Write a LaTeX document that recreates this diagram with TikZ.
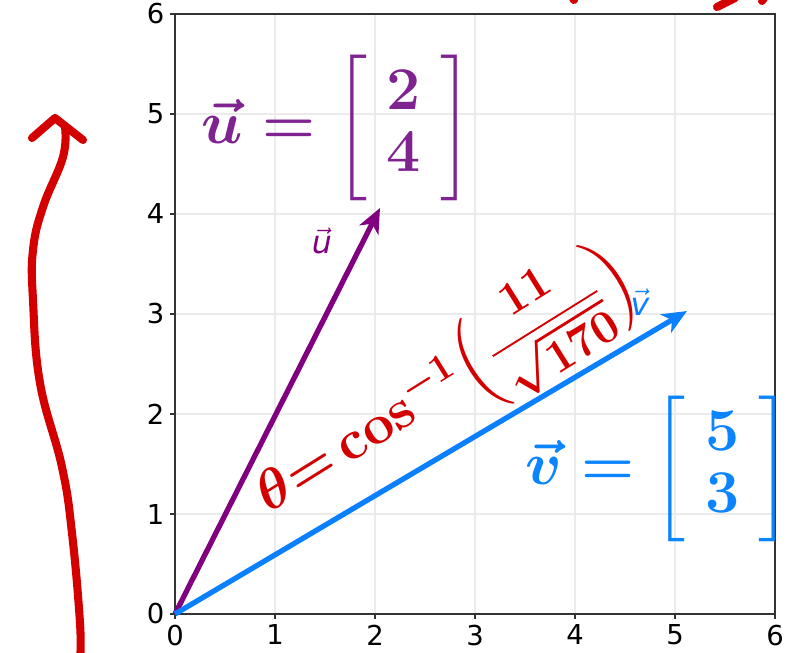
\documentclass[tikz,border=0pt]{standalone}
\usepackage{amsmath}
\usepackage[no-math]{fontspec}
\setmainfont{DejaVu Sans}
\usetikzlibrary{arrows.meta, positioning, calc}

\definecolor{mplpurple}{HTML}{800080}
\definecolor{mplblue}{HTML}{0A80FF}
\definecolor{penpurple}{HTML}{7E2390}
\definecolor{penblue}{HTML}{0A84FF}
\definecolor{penred}{HTML}{D40000}
\definecolor{gridgray}{HTML}{EBEBEB}
\renewcommand{\arraystretch}{0.8}

\begin{document}
\begin{tikzpicture}[
        x=1cm, y=1cm,
        gridline/.style={gridgray, line width=0.6pt},
        frame/.style={black!80, line width=0.6pt},
        ticklabel/.style={font=\fontsize{7.8}{9}\selectfont, inner sep=0pt},
        vecarrow/.style={line width=1.5pt, -{Stealth[length=7pt, width=6pt, inset=2pt]}},
        veclabel/.style={font=\fontsize{9}{10}\selectfont, inner sep=0pt},
        pen/.style={line width=2.3pt, line cap=round, line join=round},
        handtext/.style={font=\LARGE\boldmath, inner sep=0pt}
    ]
        \useasboundingbox (-1.75,-0.38) rectangle (6.14,6.14);

        % Grid and axes
        \draw[gridline] (0,0) grid (6,6);
        \draw[frame] (0,0) rectangle (6,6);
        \foreach \t in {0,...,6} {
            \draw[frame] (\t,0) -- (\t,-0.05);
            \draw[frame] (0,\t) -- (-0.05,\t);
            \node[ticklabel, anchor=north] (xt\t) at (\t,-0.1) {\t};
            \node[ticklabel, anchor=east] (yt\t) at (-0.1,\t) {\t};
        }

        % Vectors
        \coordinate (o) at (0,0);
        \coordinate (utip) at (2.05,4.06);
        \coordinate (vtip) at (5.12,3.03);
        \draw[vecarrow, mplpurple] (o) -- (utip);
        \draw[vecarrow, mplblue] (o) -- (vtip);
        \node[veclabel, mplpurple] (ulab) at (1.47,3.73) {$\vec{\textit{u}}$};
        \node[veclabel, mplblue] (vlab) at (4.65,3.12) {$\vec{\textit{v}}$};

        % Handwritten notes
        \node[handtext, penpurple] (ueq) at (1.62,4.86) {$\vec{u}=\begin{bmatrix}\;2\;\\\;4\;\end{bmatrix}$};
        \node[handtext, penblue] (veq) at (4.83,1.45) {$\vec{v}=\begin{bmatrix}\;5\;\\\;3\;\end{bmatrix}$};
        \node[handtext, penred, rotate=32, scale=0.92] (theta) at (2.71,2.27) {$\theta{=}\cos^{-1}\!\left(\vcenter{\hbox{\Large\boldmath$\displaystyle\frac{11}{\sqrt{170}}$}}\right)$};

        % Red stroke on the left
        \draw[pen, penred] plot[smooth, tension=0.7] coordinates {(-0.95,-0.45) (-0.95,-0.09) (-1.03,0.81) (-1.13,1.47) (-1.35,2.31) (-1.42,3.14) (-1.42,3.64) (-1.32,4.07) (-1.12,4.57) (-1.10,4.87)};
        \draw[pen, penred] (-1.43,4.76) -- (-1.20,4.96) -- (-0.92,4.74);

        % Cut-off marks at the top
        \draw[pen, penred] (3.98,6.16) -- (3.99,6.14);
        \draw[pen, penred] (5.42,6.07) -- (5.60,6.16);
        \draw[pen, penred] (5.87,6.13) -- (5.89,6.16);

    \end{tikzpicture}
\end{document}
